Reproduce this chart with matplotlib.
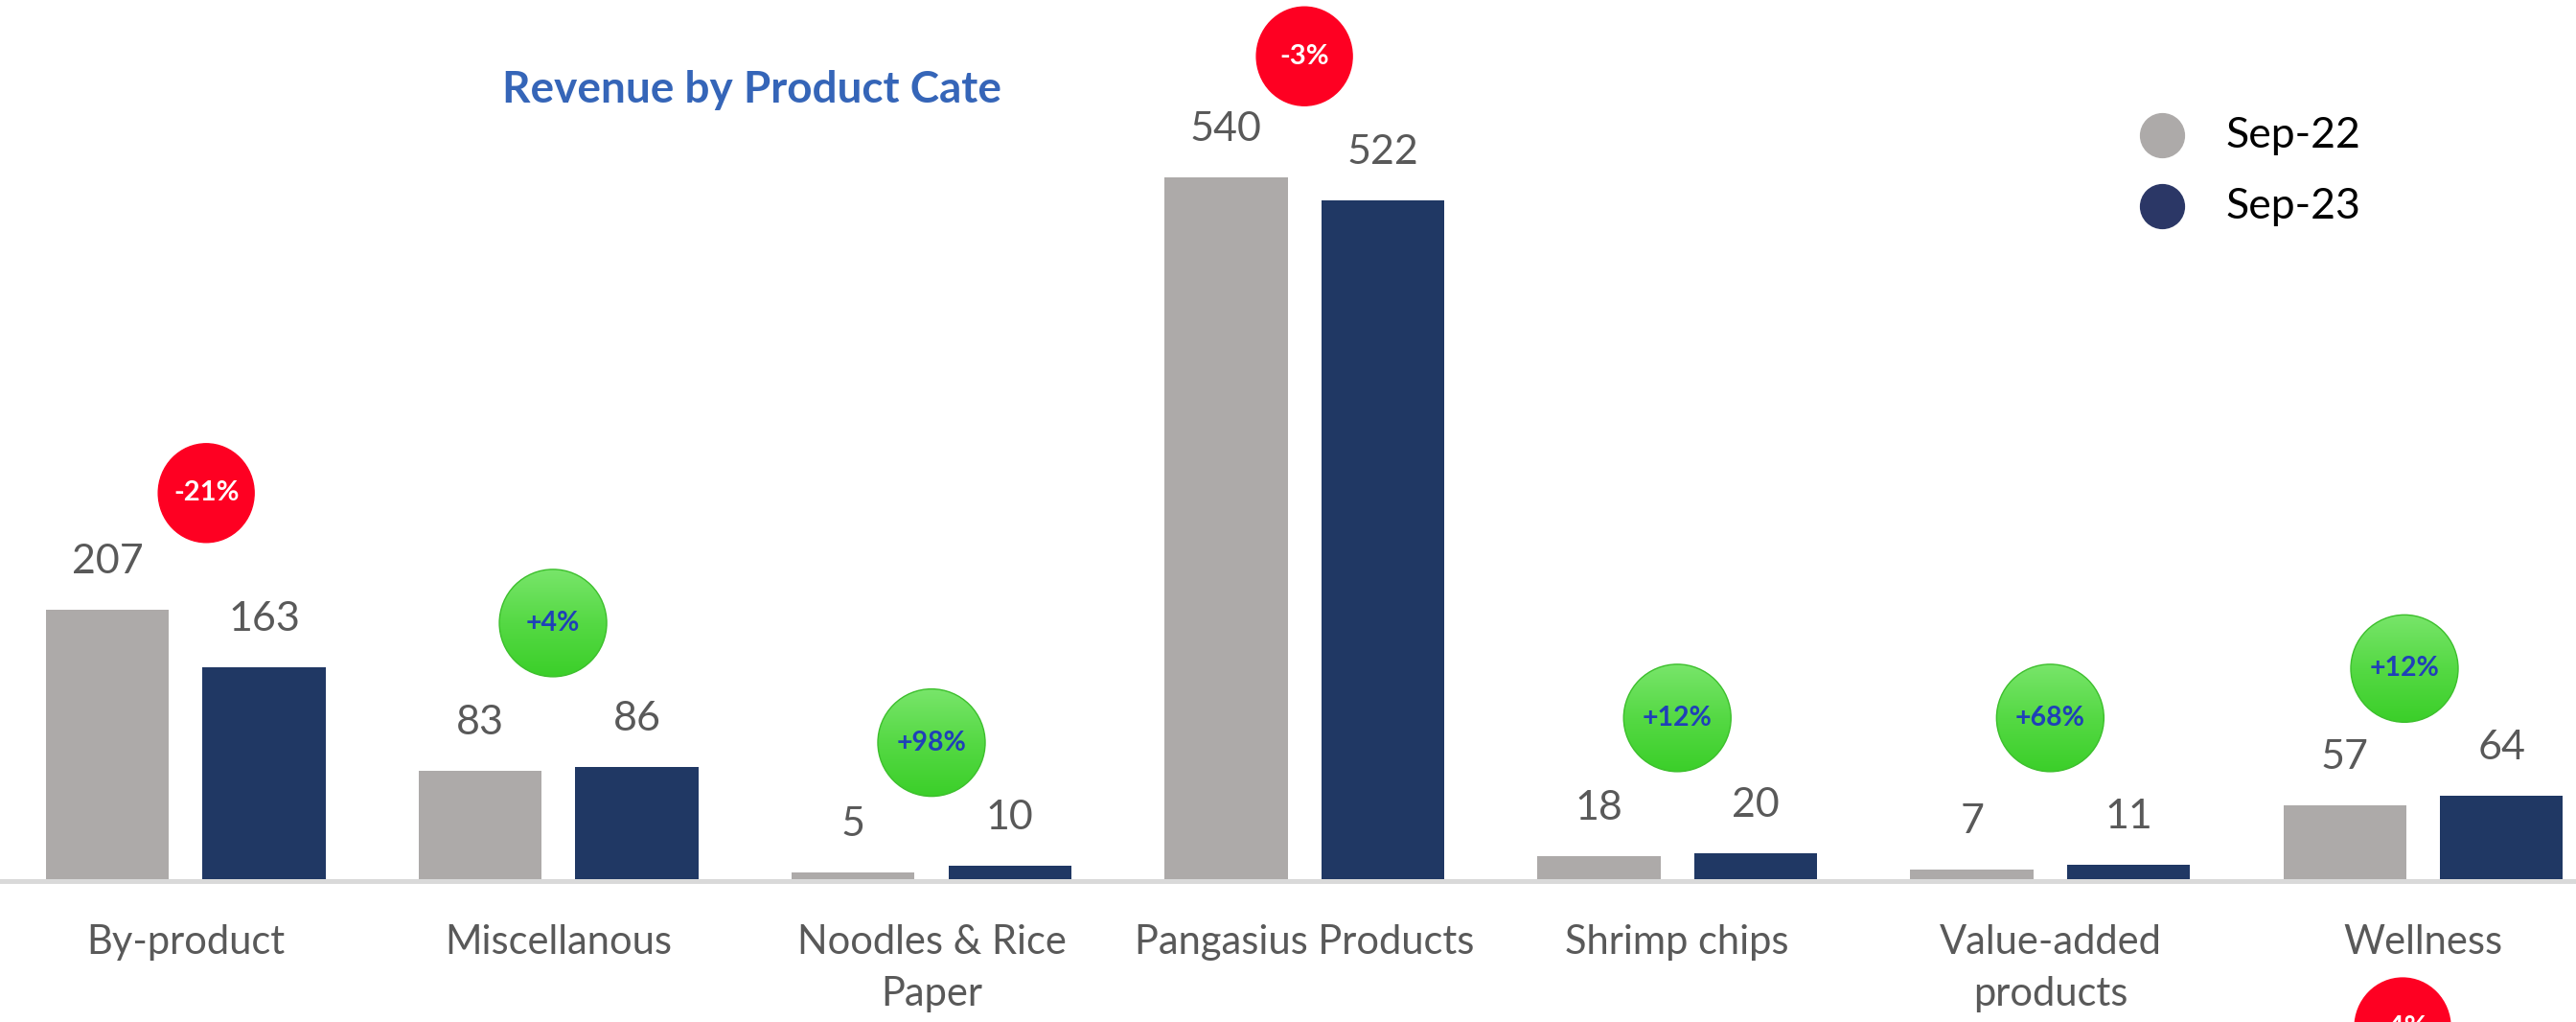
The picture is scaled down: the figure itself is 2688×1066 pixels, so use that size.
#-----------------------------------------------
# Revenue by Product Category  (Sep-22 vs Sep-23)
#-----------------------------------------------
import numpy as np
import matplotlib.pyplot as plt
from matplotlib.patches import Ellipse
from matplotlib.colors import LinearSegmentedColormap

#-----------------------------------------------
# Data
#-----------------------------------------------
categories = ["By-product", "Miscellanous", "Noodles & Rice\nPaper", "Pangasius Products",
              "Shrimp chips", "Value-added\nproducts", "Wellness"]
sep22 = [207, 83, 5, 540, 18, 7, 57]
sep23 = [163, 86, 10, 522, 20, 11, 64]
series = ["Sep-22", "Sep-23"]

# growth badges (text, category they belong to)
badge_text = ["-21%", "+4%", "+98%", "-3%", "+12%", "+68%", "+12%", "-4%"]
badge_cat = [0, 1, 2, 3, 4, 5, 6, 6]
# where the badges sit (x shift in category units, y in value units)
badge_dx = [0.055, -0.015, 0, 0, 0, 0, -0.05, -0.055]
badge_y = [297, 197, 105, 633, 124, 124, 162, -114]

#-----------------------------------------------
# Style
#-----------------------------------------------
c22 = "#adaaa9"
c23 = "#203864"
txt_grey = "#595959"
red = "#fe0022"
green_cmap = LinearSegmentedColormap.from_list("g", ["#78e56a", "#55d944", "#3bcf29"])
plt.rcParams["font.family"] = ["Lato", "DejaVu Sans"]

W, H = 2688, 1066
fig = plt.figure(figsize=(W / 100, H / 100), dpi=100)
ax = fig.add_axes([0, 0, 1, 1])
xlim = (-0.498, 6.410)
ylim = (-109.9, 676.3)
px_x = W / (xlim[1] - xlim[0])       # pixels per category unit
px_y = H / (ylim[1] - ylim[0])       # pixels per value unit

#-----------------------------------------------
# Bars
#-----------------------------------------------
x = np.arange(len(categories))
bw = 0.33
off = 0.21
b1 = ax.bar(x - off, sep22, width=bw, color=c22, zorder=3)
b2 = ax.bar(x + off, sep23, width=bw, color=c23, zorder=3)
ax.axhline(-1.6, color="#d9d9d9", lw=3.6, zorder=2)

# value labels
for bars, vals in [(b1, sep22), (b2, sep23)]:
    for r, v in zip(bars, vals):
        ax.annotate(str(v), (r.get_x() + r.get_width() / 2, v), xytext=(0, 36),
                    textcoords="offset points", ha="center", va="center",
                    fontsize=31, color=txt_grey)

# category labels
for i, c in enumerate(categories):
    ax.text(i, -35, c, ha="center", va="top", fontsize=30, color=txt_grey,
            linespacing=1.5)

#-----------------------------------------------
# Growth badges
#-----------------------------------------------
for t, ci, dx, by in zip(badge_text, badge_cat, badge_dx, badge_y):
    bx = ci + dx
    if t.startswith("-"):
        d = 100
        w, h = d / px_x, 1.03 * d / px_y
        ax.add_patch(Ellipse((bx, by), w, h, color=red, zorder=5))
        ax.text(bx, by, t, ha="center", va="center", fontsize=21, fontweight="bold",
                color="white", zorder=6)
    else:
        d = 112
        w, h = d / px_x, d / px_y
        ell = Ellipse((bx, by), w, h, facecolor="none", edgecolor="#3cbf2c", lw=1, zorder=6)
        ax.add_patch(ell)
        im = ax.imshow(np.linspace(0, 1, 256).reshape(-1, 1), cmap=green_cmap,
                       extent=[bx - w / 2, bx + w / 2, by - h / 2, by + h / 2],
                       aspect="auto", zorder=5)
        im.set_clip_path(ell)
        ax.text(bx, by, t, ha="center", va="center", fontsize=20.5, fontweight="bold",
                color="#1f40b8", zorder=7)

#-----------------------------------------------
# Title and legend
#-----------------------------------------------
fig.text(785 / W, 1 - 107 / H, "Revenue by Product Cate", ha="center", va="baseline",
         fontsize=33, fontweight="bold", color="#3565b8")

for name, col, yb in zip(series, [c22, "#2b3766"], [141, 215]):
    ax.plot([2256 / W], [1 - yb / H], "o", ms=33, color=col, mec=col,
            transform=ax.transAxes, clip_on=False)
    ax.text(2322 / W, 1 - yb / H, name, transform=ax.transAxes, ha="left",
            va="center", fontsize=32, color="black")

ax.set_xlim(*xlim)
ax.set_ylim(*ylim)
ax.axis("off")

fig.savefig("out.png", dpi=100)
